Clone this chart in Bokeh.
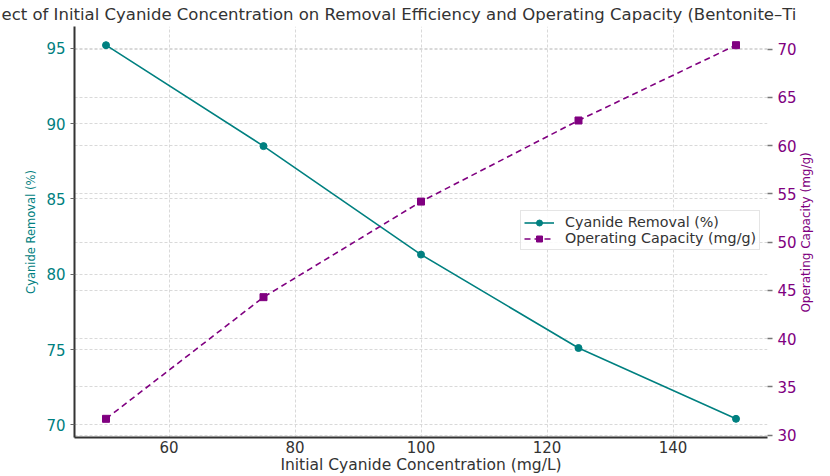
import math

from bokeh.plotting import figure
from bokeh.models import Range1d, LinearAxis, FixedTicker, Grid, Legend, LegendItem
from bokeh.embed import file_html
from bokeh.resources import INLINE

# Data: initial cyanide concentration vs. removal and operating capacity
concentration = [50, 75, 100, 125, 150]
removal_pct = [95.2, 88.5, 81.3, 75.1, 70.4]
capacity_mg_g = [31.7, 44.3, 54.2, 62.6, 70.4]

x_ticks = [60, 80, 100, 120, 140]
removal_ticks = [70, 75, 80, 85, 90, 95]
capacity_ticks = [30, 35, 40, 45, 50, 55, 60, 65, 70]

title_text = "ect of Initial Cyanide Concentration on Removal Efficiency and Operating Capacity (Bentonite\u2013Ti"
right_label_text = "Operating Capacity (mg/g)"

TEAL = "#008080"
PURPLE = "#800080"
TEXT = "#333333"
FONT = "DejaVu Sans"
GRID = "#d9d9d9"

X_RANGE = (45, 155)
CAP_RANGE = (29.765, 72.335)
# capacity-axis position where the bottom-to-top right axis title starts
RIGHT_TITLE_START = 42.7

p = figure(
    width=830, height=476,
    output_backend="svg", toolbar_location=None,
    x_range=Range1d(*X_RANGE), y_range=Range1d(69.16, 96.44),
    min_border_left=74, min_border_right=63,
    min_border_top=26, min_border_bottom=39,
)
p.outline_line_color = None
p.background_fill_color = "white"
p.border_fill_color = "white"

# Title (left-aligned, spanning the full canvas width)
p.title.text = title_text
p.title.align = "left"
p.title.offset = -73
p.title.text_font = FONT
p.title.text_font_size = "16.5px"
p.title.text_font_style = "normal"
p.title.text_color = TEXT
p.title.standoff = 5

# x axis
xa = p.xaxis[0]
xa.ticker = FixedTicker(ticks=x_ticks)
xa.axis_label = "Initial Cyanide Concentration (mg/L)"
xa.axis_label_text_font = FONT
xa.axis_label_text_font_size = "15.5px"
xa.axis_label_text_font_style = "normal"
xa.axis_label_text_color = TEXT
xa.axis_label_standoff = 0
xa.major_label_text_font = FONT
xa.major_label_text_font_size = "15px"
xa.major_label_text_color = TEXT
xa.major_label_standoff = 3
xa.axis_line_color = "#333333"
xa.axis_line_width = 2
xa.major_tick_line_color = None
xa.major_tick_out = 0
xa.major_tick_in = 0
xa.minor_tick_line_color = None

# left y axis (removal)
ya = p.yaxis[0]
ya.ticker = FixedTicker(ticks=removal_ticks)
ya.axis_label = "Cyanide Removal (%)"
ya.axis_label_text_font = FONT
ya.axis_label_text_font_size = "11.5px"
ya.axis_label_text_font_style = "normal"
ya.axis_label_text_color = TEAL
ya.axis_label_standoff = 5
ya.major_label_text_font = FONT
ya.major_label_text_font_size = "15px"
ya.major_label_text_color = TEAL
ya.major_label_standoff = 5
ya.axis_line_color = "#333333"
ya.axis_line_width = 2
ya.major_tick_line_color = "#666666"
ya.major_tick_out = 4
ya.major_tick_in = 0
ya.minor_tick_line_color = None

# right y axis (operating capacity)
p.extra_y_ranges = {"cap": Range1d(*CAP_RANGE)}
ra = LinearAxis(y_range_name="cap", ticker=FixedTicker(ticks=capacity_ticks))
ra.major_label_text_font = FONT
ra.major_label_text_font_size = "15px"
ra.major_label_text_color = PURPLE
ra.major_label_standoff = 5
ra.axis_line_color = None
ra.major_tick_line_color = "#777777"
ra.major_tick_line_width = 1.5
ra.major_tick_out = 5
ra.major_tick_in = 0
ra.minor_tick_line_color = None
p.add_layout(ra, "right")

# right axis title: an outer, tick-less axis carrying one rotated label
rt = LinearAxis(
    y_range_name="cap",
    ticker=FixedTicker(ticks=[RIGHT_TITLE_START]),
    major_label_overrides={RIGHT_TITLE_START: right_label_text},
    major_label_orientation=math.pi / 2,
)
rt.major_label_text_font = FONT
rt.major_label_text_font_size = "12px"
rt.major_label_text_color = PURPLE
rt.major_label_standoff = 7
rt.axis_line_color = None
rt.major_tick_line_color = None
rt.major_tick_out = 0
rt.major_tick_in = 0
rt.minor_tick_line_color = None
p.add_layout(rt, "right")

# grids
p.xgrid.ticker = FixedTicker(ticks=x_ticks)
p.ygrid.ticker = FixedTicker(ticks=removal_ticks)
for g in (p.xgrid[0], p.ygrid[0]):
    g.grid_line_color = GRID
    g.grid_line_dash = "3 2"
    g.grid_line_width = 1
cap_grid = Grid(dimension=1, ticker=FixedTicker(ticks=capacity_ticks), y_range_name="cap",
                grid_line_color=GRID, grid_line_dash="3 2", grid_line_width=1)
p.add_layout(cap_grid)

# series
r_line = p.line(concentration, removal_pct, line_color=TEAL, line_width=1.6)
r_pts = p.scatter(concentration, removal_pct, marker="circle", size=7,
                  fill_color=TEAL, line_color=TEAL)
c_line = p.line(concentration, capacity_mg_g, y_range_name="cap", line_color=PURPLE,
                line_width=1.6, line_dash="6 4")
c_pts = p.scatter(concentration, capacity_mg_g, y_range_name="cap", marker="square", size=7,
                  fill_color=PURPLE, line_color=PURPLE)

legend = Legend(
    items=[
        LegendItem(label="Cyanide Removal (%)", renderers=[r_line, r_pts]),
        LegendItem(label="Operating Capacity (mg/g)", renderers=[c_line, c_pts]),
    ],
    location=(446, 187),
    orientation="vertical",
)
legend.label_text_font = FONT
legend.label_text_font_size = "14.3px"
legend.label_text_color = TEXT
legend.border_line_color = "#cccccc"
legend.border_line_width = 1
legend.background_fill_color = "white"
legend.background_fill_alpha = 0.85
legend.glyph_width = 30
legend.glyph_height = 15
legend.label_height = 15
legend.label_standoff = 11
legend.padding = 3
legend.spacing = 0
legend.margin = 0
p.add_layout(legend)

open("out.html", "w").write(file_html(p, INLINE))
